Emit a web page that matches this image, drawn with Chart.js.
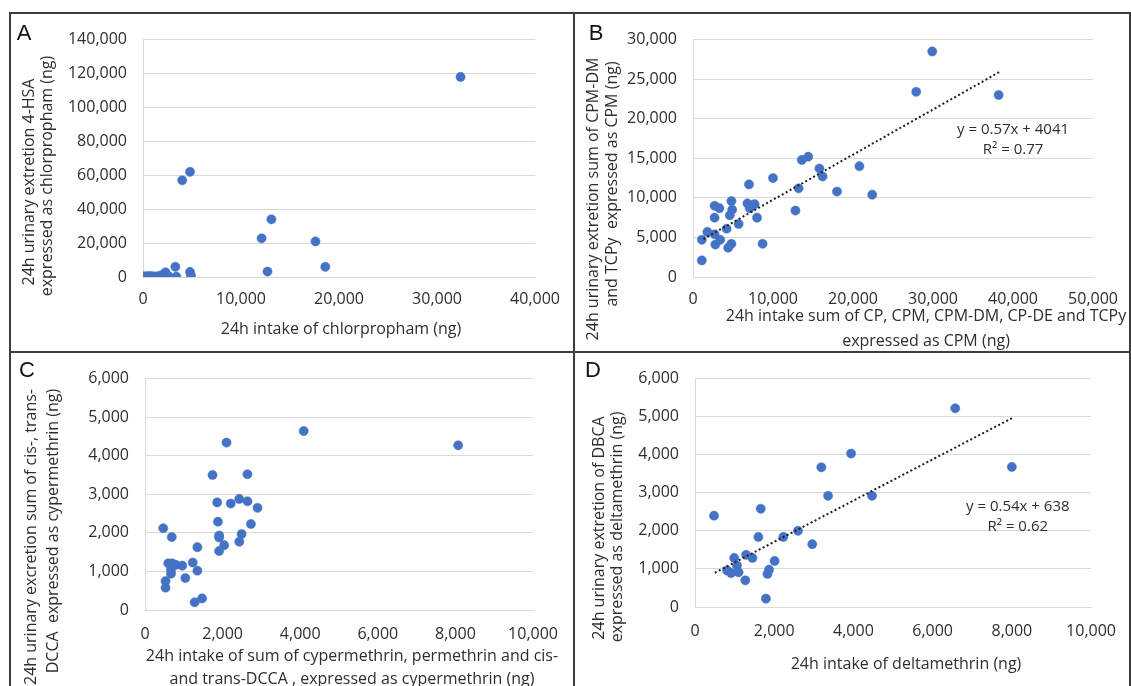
<!DOCTYPE html>
<html>
<head>
<meta charset="utf-8">
<script src="https://cdn.jsdelivr.net/npm/chart.js@4.4.0/dist/chart.umd.min.js"></script>
<style>
  body { margin: 0; background: #fff; }
  #fig { position: relative; width: 1131px; height: 686px; overflow: hidden; font-family: 'Open Sans', sans-serif; color: #2e2e2e; }
  .cv { position: absolute; }
  .ln { position: absolute; background: #3c3c3c; }
  .t { position: absolute; white-space: pre; font-size: 16px; transform: translate(-50%, -50%); }
  .t.r { transform: translate(-50%, -50%) rotate(-90deg); }
  .lab { position: absolute; font-family: 'Liberation Sans', Arial, sans-serif; font-size: 22px; color: #111; transform: translate(-50%, -50%); }
</style>
</head>
<body>
<div id="fig">
  <!-- panel frame -->
  <div class="ln" style="left:9px;top:12px;width:1121px;height:2px"></div>
  <div class="ln" style="left:9px;top:351px;width:1121px;height:2px"></div>
  <div class="ln" style="left:9px;top:12px;width:2px;height:674px"></div>
  <div class="ln" style="left:573px;top:12px;width:2px;height:674px"></div>
  <div class="ln" style="left:1129px;top:12px;width:2px;height:674px"></div>

  <div class="cv" style="left:11px;top:14px"><canvas id="cA" width="562" height="336"></canvas></div>
  <div class="cv" style="left:576px;top:14px"><canvas id="cB" width="555" height="336"></canvas></div>
  <div class="cv" style="left:11px;top:353px"><canvas id="cC" width="562" height="333"></canvas></div>
  <div class="cv" style="left:576px;top:353px"><canvas id="cD" width="555" height="333"></canvas></div>

  <div class="lab" style="left:24px;top:33px">A</div>
  <div class="lab" style="left:596px;top:33px">B</div>
  <div class="lab" style="left:27px;top:370px">C</div>
  <div class="lab" style="left:593px;top:370px">D</div>

  <div class="t r" style="left:28px;top:182px">24h urinary extretion 4-HSA</div>
  <div class="t r" style="left:46px;top:176px">expressed as chlorpropham (ng)</div>
  <div class="t" style="left:341px;top:328px">24h intake of chlorpropham (ng)</div>

  <div class="t r" style="left:592px;top:199px">24h urinary extretion sum of CPM-DM</div>
  <div class="t r" style="left:611px;top:184px">and TCPy  expressed as CPM (ng)</div>
  <div class="t" style="left:926px;top:315px">24h intake sum of CP, CPM, CPM-DM, CP-DE and TCPy</div>
  <div class="t" style="left:926px;top:340px">expressed as CPM (ng)</div>

  <div class="t r" style="left:30px;top:537px">24h urinary excretion sum of cis-, trans-</div>
  <div class="t r" style="left:52px;top:531px">DCCA  expressed as cypermethrin (ng)</div>
  <div class="t" style="left:352px;top:655px">24h intake of sum of cypermethrin, permethrin and cis-</div>
  <div class="t" style="left:352px;top:678px">and trans-DCCA , expressed as cypermethrin (ng)</div>

  <div class="t r" style="left:598px;top:528px">24h urinary extretion of DBCA</div>
  <div class="t r" style="left:616px;top:527px">expressed as deltamethrin (ng)</div>
  <div class="t" style="left:906px;top:663px">24h intake of deltamethrin (ng)</div>
</div>

<script>
// ---- A: chlorpropham ----
const aX = [32400, 4800, 4000, 13100, 12100, 17600, 18600, 12700, 3300, 3400, 4800, 4900,
            100, 300, 500, 700, 900, 1200, 1500, 1800, 2000, 2300, 2300, 2300, 2600];
const aY = [118000, 62000, 57000, 34000, 22800, 21000, 6000, 3200, 6000, 200, 3000, 800,
            400, 200, 600, 300, 500, 300, 400, 800, 1200, 2800, 1200, 100, 600];
const aXTicks = [0, 10000, 20000, 30000, 40000];
const aYTicks = [0, 20000, 40000, 60000, 80000, 100000, 120000, 140000];

// ---- B: CPM ----
const bX = [29900, 27900, 38200, 20800, 14400, 13600, 15800, 16200, 13200, 18000, 22400, 10000,
            12800, 7000, 6800, 7300, 7700, 7100, 8000, 5700, 8700, 4800, 4900, 4600, 4200,
            4800, 4400, 2700, 3300, 2700, 1800, 2700, 3400, 2800, 1100, 1100];
const bY = [28500, 23400, 23000, 14000, 15200, 14800, 13700, 12700, 11200, 10800, 10400, 12500,
            8400, 11700, 9300, 9000, 9200, 8700, 7500, 6700, 4200, 9600, 8500, 7800, 6100,
            4200, 3700, 9000, 8700, 7500, 5700, 5400, 4700, 4100, 4700, 2100];
const bTrendX = [1300, 38300];
const bTrendY = [4800, 25900];
const bXTicks = [0, 10000, 20000, 30000, 40000, 50000];
const bYTicks = [0, 5000, 10000, 15000, 20000, 25000, 30000];

// ---- C: cypermethrin ----
const cX = [4090, 8070, 2100, 1740, 2640, 1860, 2210, 2430, 2640, 2900, 1880, 2730, 1910, 1910,
            2490, 2430, 2040, 1910, 470, 690, 1350, 600, 700, 790, 960, 1230, 670, 670, 1350,
            1040, 530, 530, 1280, 1470];
const cY = [4640, 4270, 4340, 3500, 3520, 2790, 2760, 2880, 2820, 2650, 2290, 2230, 1930, 1880,
            1970, 1770, 1680, 1530, 2120, 1890, 1630, 1210, 1210, 1170, 1150, 1230, 1040, 940, 1020,
            830, 750, 580, 200, 300];
const cXTicks = [0, 2000, 4000, 6000, 8000, 10000];
const cYTicks = [0, 1000, 2000, 3000, 4000, 5000, 6000];

// ---- D: deltamethrin ----
const dX = [6570, 8000, 3940, 3190, 3360, 4470, 480, 1660, 1600, 2230, 2600, 2960, 2010, 990,
            1290, 1450, 1060, 810, 910, 1100, 1870, 1830, 1270, 1790];
const dY = [5220, 3680, 4030, 3670, 2920, 2920, 2400, 2580, 1840, 1840, 2000, 1650, 1210, 1290,
            1370, 1290, 1090, 960, 890, 910, 980, 870, 700, 220];
const dTrendX = [500, 8000];
const dTrendY = [900, 4960];
const dXTicks = [0, 2000, 4000, 6000, 8000, 10000];
const dYTicks = [0, 1000, 2000, 3000, 4000, 5000, 6000];

const BLUE = '#4472c4';
const GRID = '#d9d9d9';
const TXT = '#2e2e2e';
const fmt = v => v.toLocaleString('en-US');
const pts = (xs, ys) => xs.map((x, i) => ({ x: x, y: ys[i] }));

// regression text drawn at data coordinates
const eqText = {
    id: 'eqText',
    afterDatasetsDraw(chart, args, o) {
        if (!o || !o.lines) return;
        const { ctx, scales: { x, y } } = chart;
        ctx.save();
        ctx.font = '15px "Open Sans"';
        ctx.fillStyle = TXT;
        ctx.textAlign = 'center';
        ctx.textBaseline = 'middle';
        o.lines.forEach((t, i) => {
            ctx.fillText(t, x.getPixelForValue(o.at[i][0]), y.getPixelForValue(o.at[i][1]));
        });
        ctx.restore();
    }
};

function scatter(id, xs, ys, xTicks, yTicks, trend, eq, box) {
    const datasets = [];
    if (trend) {
        datasets.push({
            data: pts(trend[0], trend[1]),
            showLine: true,
            pointRadius: 0,
            borderColor: '#1e1e1e',
            borderWidth: 2,
            borderDash: [2, 2.5]
        });
    }
    datasets.push({
        data: pts(xs, ys),
        pointRadius: 4.6,
        backgroundColor: BLUE,
        borderColor: BLUE,
        borderWidth: 0.5
    });

    const tickFont = { family: 'Open Sans', size: 16 };
    new Chart(document.getElementById(id), {
        type: 'scatter',
        data: { datasets: datasets },
        plugins: [eqText],
        options: {
            responsive: false,
            animation: false,
            layout: { padding: { top: box.pt, right: box.pr, left: 0, bottom: 0 } },
            plugins: {
                legend: { display: false },
                tooltip: { enabled: false },
                eqText: eq || {}
            },
            scales: {
                x: {
                    type: 'linear',
                    min: xTicks[0],
                    max: xTicks[xTicks.length - 1],
                    afterBuildTicks: s => { s.ticks = xTicks.map(v => ({ value: v })); },
                    afterFit: s => { s.height = box.xH; },
                    grid: { display: false, drawTicks: false },
                    border: { display: true, color: GRID },
                    ticks: { color: TXT, font: tickFont, padding: box.xp, maxRotation: 0, callback: fmt }
                },
                y: {
                    type: 'linear',
                    min: yTicks[0],
                    max: yTicks[yTicks.length - 1],
                    afterBuildTicks: s => { s.ticks = yTicks.map(v => ({ value: v })); },
                    afterFit: s => { s.width = box.yW; },
                    grid: { color: GRID, drawTicks: false },
                    border: { display: true, color: GRID },
                    ticks: { color: TXT, font: tickFont, padding: 16, callback: fmt }
                }
            }
        }
    });
}

scatter('cA', aX, aY, aXTicks, aYTicks, null, null,
    { yW: 132, pr: 33, pt: 12, xH: 73, xp: 13 });
scatter('cB', bX, bY, bXTicks, bYTicks, [bTrendX, bTrendY],
    { lines: ['y = 0.57x + 4041', 'R\u00b2 = 0.77'], at: [[40000, 18640], [40000, 16100]] },
    { yW: 117, pr: 23, pt: 11, xH: 73, xp: 13 });
scatter('cC', cX, cY, cXTicks, cYTicks, null, null,
    { yW: 134, pr: 38, pt: 17, xH: 76, xp: 15 });
scatter('cD', dX, dY, dXTicks, dYTicks, [dTrendX, dTrendY],
    { lines: ['y = 0.54x + 638', 'R\u00b2 = 0.62'], at: [[8150, 2630], [8150, 2100]] },
    { yW: 119, pr: 29, pt: 17, xH: 79, xp: 15 });
</script>
</body>
</html>
